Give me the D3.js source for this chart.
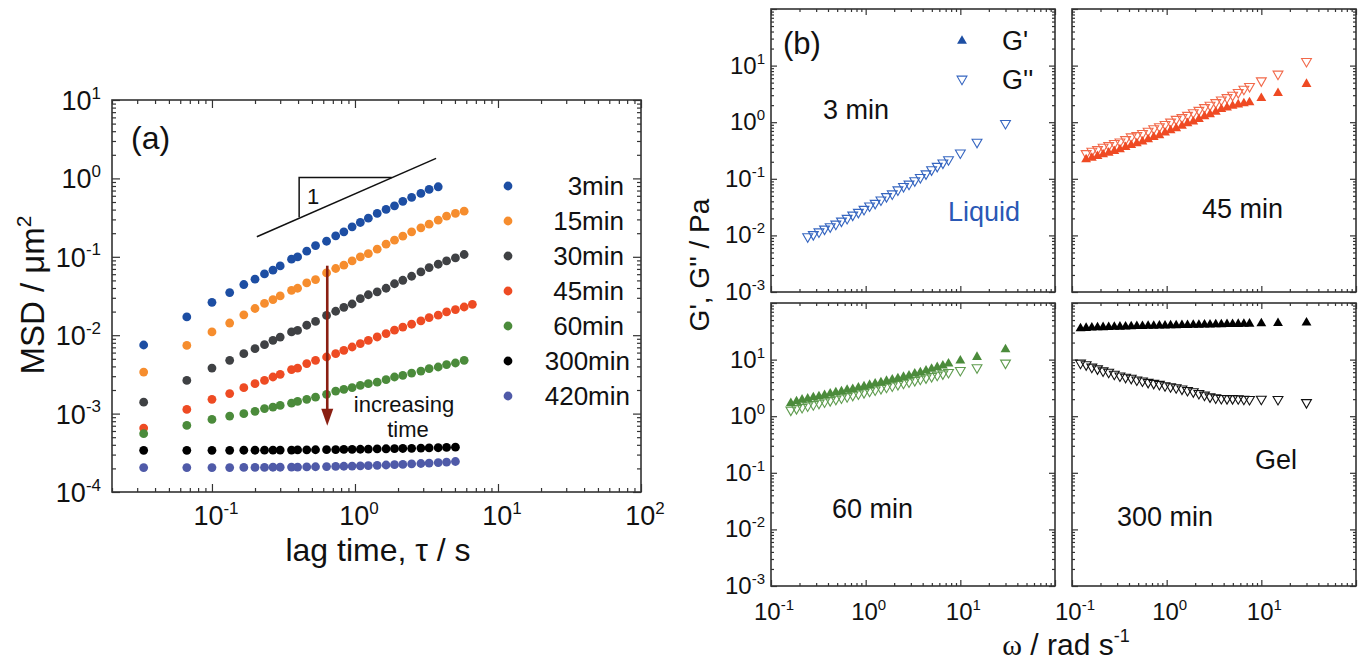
<!DOCTYPE html>
<html>
<head>
<meta charset="utf-8">
<script src="https://cdn.jsdelivr.net/npm/d3@7"></script>
<style>
body { margin: 0; background: #fff; }
svg { display: block; font-family: "Liberation Sans", Arial, sans-serif; }
</style>
</head>
<body>
<svg id="chart" width="1368" height="664"></svg>
<script>
// ---- panel (a): MSD vs lag time ----
var lagTime = [0.0333, 0.0667, 0.1, 0.133, 0.167, 0.2, 0.233, 0.267, 0.3, 0.36, 0.397, 0.46, 0.53, 0.633,
    0.733, 0.836, 0.955, 1.09, 1.24, 1.43, 1.65, 1.89, 2.16, 2.49, 2.89, 3.30, 3.82, 4.37, 5.04, 5.8, 6.62];
var msd3min = [0.0075, 0.0171, 0.0263, 0.0350, 0.0443, 0.0518, 0.0605, 0.0675, 0.0766, 0.0932, 0.0997, 0.118,
    0.139, 0.158, 0.185, 0.208, 0.241, 0.274, 0.311, 0.357, 0.402, 0.447, 0.510, 0.572, 0.643, 0.724, 0.782];
var msd15min = [0.00339, 0.0074, 0.0110, 0.0143, 0.0182, 0.0219, 0.0254, 0.0285, 0.0317, 0.0374, 0.0397, 0.0464,
    0.0513, 0.0623, 0.0709, 0.0781, 0.0887, 0.0997, 0.110, 0.125, 0.145, 0.163, 0.183, 0.208, 0.234, 0.261,
    0.293, 0.330, 0.357, 0.382];
var msd30min = [0.00140, 0.00265, 0.00381, 0.00478, 0.00582, 0.00674, 0.00757, 0.00859, 0.00947, 0.0110, 0.0115,
    0.0134, 0.0150, 0.0179, 0.0202, 0.0227, 0.0250, 0.0292, 0.0328, 0.0358, 0.0397, 0.0453, 0.0502, 0.0565,
    0.0641, 0.0729, 0.0804, 0.0885, 0.0968, 0.107];
var msd45min = [0.000653, 0.00113, 0.00152, 0.00180, 0.00214, 0.00241, 0.00265, 0.00293, 0.00317, 0.00364,
    0.00381, 0.00434, 0.00478, 0.00527, 0.00582, 0.00641, 0.00707, 0.00781, 0.00861, 0.00949, 0.0105, 0.0116,
    0.0127, 0.0138, 0.0152, 0.0168, 0.0180, 0.0198, 0.0212, 0.0229, 0.0248];
var msd60min = [0.000554, 0.000706, 0.000843, 0.000929, 0.000997, 0.00107, 0.00116, 0.00121, 0.00127, 0.00136,
    0.00143, 0.00152, 0.00162, 0.00176, 0.00194, 0.00204, 0.00214, 0.00229, 0.00241, 0.00252, 0.00271, 0.00293,
    0.00308, 0.00329, 0.00349, 0.00375, 0.00393, 0.00422, 0.00442, 0.00478];
var msd300min = [0.000340, 0.000340, 0.000340, 0.000340, 0.000341, 0.000341, 0.000342, 0.000342, 0.000343,
    0.000343, 0.000344, 0.000345, 0.000346, 0.000347, 0.000348, 0.000349, 0.000350, 0.000351, 0.000353,
    0.000354, 0.000356, 0.000357, 0.000359, 0.000361, 0.000363, 0.000365, 0.000367, 0.000370, 0.000373];
var msd420min = [0.000205, 0.000205, 0.000205, 0.000205, 0.000206, 0.000206, 0.000206, 0.000207, 0.000207,
    0.000208, 0.000208, 0.000209, 0.000210, 0.000211, 0.000212, 0.000213, 0.000214, 0.000216, 0.000217,
    0.000219, 0.000221, 0.000223, 0.000225, 0.000228, 0.000231, 0.000234, 0.000237, 0.000241, 0.000245];
var msdLabels = ["3min", "15min", "30min", "45min", "60min", "300min", "420min"];
var msdValues = [msd3min, msd15min, msd30min, msd45min, msd60min, msd300min, msd420min];
var msdColors = ["#1d4ea3", "#f68d2e", "#3f4144", "#ee4b23", "#4b8b3b", "#000000", "#4f5aa8"];

// ---- panel (b): frequency sweeps ----
var omega = [0.123, 0.141, 0.162, 0.186, 0.213, 0.244, 0.280, 0.321, 0.368, 0.422, 0.484, 0.555, 0.637, 0.730,
    0.838, 0.961, 1.10, 1.26, 1.45, 1.66, 1.91, 2.19, 2.51, 2.87, 3.30, 3.78, 4.34, 4.97, 5.70, 6.54, 7.50,
    10, 15, 30];
var g3Loss = [0.0095, 0.0104, 0.0116, 0.0130, 0.0143, 0.0159, 0.0180, 0.0201, 0.0230, 0.0257, 0.0290, 0.0333,
    0.0371, 0.0426, 0.0488, 0.0544, 0.0641, 0.0735, 0.0809, 0.0927, 0.106, 0.123, 0.145, 0.167, 0.191, 0.219,
    0.288, 0.445, 0.955];
var g45Storage = [0.219, 0.234, 0.251, 0.269, 0.288, 0.308, 0.330, 0.363, 0.394, 0.422, 0.451, 0.496, 0.546,
    0.584, 0.652, 0.717, 0.779, 0.857, 0.956, 1.02, 1.13, 1.26, 1.38, 1.52, 1.70, 1.81, 1.94, 2.05, 2.14, 2.23,
    2.66, 3.27, 4.72];
var g45Loss = [0.280, 0.308, 0.330, 0.363, 0.388, 0.422, 0.451, 0.496, 0.553, 0.584, 0.635, 0.698, 0.769, 0.834,
    0.918, 1.01, 1.13, 1.21, 1.33, 1.48, 1.63, 1.82, 2.00, 2.23, 2.49, 2.73, 3.01, 3.36, 3.85, 4.29, 5.41, 7.11,
    11.9];
var g60Storage = [1.70, 1.82, 1.95, 2.03, 2.14, 2.23, 2.36, 2.49, 2.63, 2.74, 2.90, 3.01, 3.18, 3.36, 3.55, 3.75,
    3.96, 4.18, 4.42, 4.67, 4.92, 5.20, 5.64, 5.96, 6.38, 6.83, 7.31, 7.82, 8.49, 9.60, 11.1, 15.1];
var g60Loss = [1.29, 1.37, 1.44, 1.53, 1.61, 1.70, 1.80, 1.90, 2.00, 2.12, 2.23, 2.36, 2.49, 2.63, 2.78, 2.93,
    3.10, 3.27, 3.45, 3.65, 3.85, 4.06, 4.29, 4.54, 4.79, 5.06, 5.34, 5.64, 5.96, 6.47, 7.21, 8.73];
var g300Storage = [35.5, 36.1, 36.5, 36.9, 37.2, 37.5, 37.8, 38.0, 38.3, 38.6, 38.8, 39.0, 39.3, 39.5, 39.7, 39.9,
    40.1, 40.3, 40.5, 40.7, 40.9, 41.1, 41.3, 41.5, 41.7, 41.9, 42.1, 42.3, 42.5, 42.7, 42.9, 43.6, 44.2, 44.8];
var g300Loss = [8.71, 8.15, 7.40, 6.91, 6.36, 6.03, 5.55, 5.18, 4.90, 4.71, 4.40, 4.22, 3.99, 3.83, 3.67, 3.48,
    3.34, 3.21, 3.04, 2.87, 2.72, 2.54, 2.37, 2.21, 2.12, 2.07, 2.06, 2.06, 2.05, 2.01, 1.99, 2.01, 1.99, 1.75];
var sweepNames = ["3 min", "45 min", "60 min", "300 min"];
var sweepStart = [5, 1, 2, 0]; // first omega index of each sweep
var sweepStorage = [[], g45Storage, g60Storage, g300Storage];
var sweepLoss = [g3Loss, g45Loss, g60Loss, g300Loss];
var storageColors = ["#1d4ea3", "#ef4a23", "#4b8b3b", "#000000"];
var lossColors = ["#3565c0", "#f2694a", "#5f9c4f", "#111111"];

var svg = d3.select("#chart");
svg.append("rect").attr("width", 1368).attr("height", 664).attr("fill", "#fff");

//log decade ticks (majors) or 2..9 subticks (minors) inside a domain
function logTicks(domain, minor) {
    var lo = Math.log10(domain[0]) - 1e-9, hi = Math.log10(domain[1]) + 1e-9, out = [];
    for (var e = Math.floor(lo); e <= Math.ceil(hi); e++) {
        if (!minor) {
            if (e >= lo && e <= hi) out.push(Math.pow(10, e));
            continue;
        }
        for (var d = 2; d < 10; d++) {
            var v = d * Math.pow(10, e);
            if (Math.log10(v) >= lo && Math.log10(v) <= hi) out.push(v);
        }
    }
    return out;
}

//box with inward ticks on all four sides
function drawFrame(g, x, y, major, minor) {
    var w = x.range()[1], h = y.range()[0];
    var sides = [
        [d3.axisBottom(x), "translate(0," + h + ")", x],
        [d3.axisTop(x), null, x],
        [d3.axisLeft(y), null, y],
        [d3.axisRight(y), "translate(" + w + ",0)", y]
    ];
    sides.forEach(function (s) {
        [[false, major], [true, minor]].forEach(function (t) {
            var a = g.append("g").attr("transform", s[1])
                .call(s[0].tickValues(logTicks(s[2].domain(), t[0])).tickSize(-t[1]).tickFormat(""));
            a.select(".domain").remove();
            a.selectAll("text").remove();
            a.selectAll("line").attr("stroke", "#333").attr("stroke-width", 1.2);
        });
    });
    g.append("rect").attr("width", w).attr("height", h)
        .attr("fill", "none").attr("stroke", "#333").attr("stroke-width", 1.6);
}

//"10" with superscript exponent
function powLabel(parent, v, x, y, anchor, size, supSize) {
    var t = parent.append("text").attr("x", x).attr("y", y).attr("text-anchor", anchor)
        .attr("font-size", size).attr("fill", "#111");
    t.append("tspan").text("10");
    t.append("tspan").attr("dy", -size * 0.42).attr("font-size", supSize)
        .text(Math.round(Math.log10(v)));
    return t;
}

/* ================= panel (a) ================= */
var A = {left: 112, top: 100, w: 529, h: 392};
var xa = d3.scaleLog().domain([0.02, 100]).range([0, A.w]);
var ya = d3.scaleLog().domain([1e-4, 10]).range([A.h, 0]);
var ga = svg.append("g").attr("transform", "translate(" + A.left + "," + A.top + ")");
drawFrame(ga, xa, ya, 8, 4);

logTicks(ya.domain(), false).forEach(function (v) {
    powLabel(ga, v, -11, ya(v) + 10, "end", 27, 17);
});
logTicks([0.1, 100], false).forEach(function (v) {
    powLabel(ga, v, xa(v) + 4, A.h + 33, "middle", 27, 17);
});

msdValues.forEach(function (vals, i) {
    ga.append("g").selectAll("circle").data(vals).join("circle")
        .attr("cx", function (d, j) { return xa(lagTime[j]); })
        .attr("cy", function (d) { return ya(d); })
        .attr("r", 4.4)
        .attr("fill", msdColors[i]);
});

// slope triangle
var slopeLine = [[0.206, 0.180], [3.69, 1.80]];
ga.append("line").attr("x1", xa(slopeLine[0][0])).attr("y1", ya(slopeLine[0][1]))
    .attr("x2", xa(slopeLine[1][0])).attr("y2", ya(slopeLine[1][1]))
    .attr("stroke", "#111").attr("stroke-width", 1.5);
ga.append("polyline")
    .attr("points", [[xa(0.407), ya(0.32)], [xa(0.407), ya(1.03)], [xa(1.81), ya(1.03)]].join(" "))
    .attr("fill", "none").attr("stroke", "#111").attr("stroke-width", 1.5);
ga.append("text").attr("x", xa(0.51)).attr("y", ya(0.594) + 8).attr("text-anchor", "middle")
    .attr("font-size", 22).attr("fill", "#111").text("1");

// increasing time arrow
var arrowTau = 0.64, arrowTop = 0.077, arrowTip = 0.0007;
var ax = xa(arrowTau), tipY = ya(arrowTip);
ga.append("line").attr("x1", ax).attr("x2", ax).attr("y1", ya(arrowTop)).attr("y2", tipY - 12)
    .attr("stroke", "#8a1f12").attr("stroke-width", 2.6);
ga.append("path").attr("d", "M" + (ax - 6) + "," + (tipY - 17) + "L" + (ax + 6) + "," + (tipY - 17) + "L" + ax + "," + tipY + "Z")
    .attr("fill", "#8a1f12");
svg.append("text").attr("x", 404).attr("y", 412).attr("text-anchor", "middle")
    .attr("font-size", 22).attr("fill", "#111").text("increasing");
svg.append("text").attr("x", 408).attr("y", 437).attr("text-anchor", "middle")
    .attr("font-size", 22).attr("fill", "#111").text("time");

svg.append("text").attr("x", 131).attr("y", 149).attr("font-size", 32).attr("fill", "#111").text("(a)");

// legend (a)
msdLabels.forEach(function (lab, i) {
    var cy = 186 + i * 35;
    svg.append("circle").attr("cx", 508).attr("cy", cy).attr("r", 4.4).attr("fill", msdColors[i]);
    svg.append("text").attr("x", lab.length > 5 ? 630 : 624).attr("y", cy + 9).attr("text-anchor", "end")
        .attr("font-size", 26).attr("fill", "#111").text(lab);
});

// axis titles (a)
var yTitleA = svg.append("text").attr("transform", "translate(44,295) rotate(-90)")
    .attr("text-anchor", "middle").attr("font-size", 33).attr("fill", "#111");
yTitleA.append("tspan").text("MSD / μm");
yTitleA.append("tspan").attr("dy", -13).attr("font-size", 21).text("2");
svg.append("text").attr("x", 378).attr("y", 561).attr("text-anchor", "middle")
    .attr("font-size", 32).attr("fill", "#111").text("lag time, τ / s");

/* ================= panel (b) ================= */
var subPos = [[771, 9], [1072, 9], [771, 303], [1072, 303]];
var subW = 284, subH = 283;
var xb = d3.scaleLog().domain([0.1, 100]).range([0, subW]);
var yb = d3.scaleLog().domain([1e-3, 100]).range([subH, 0]);
var tri = d3.symbol().type(d3.symbolTriangle).size(42);

sweepNames.forEach(function (name, i) {
    var g = svg.append("g").attr("transform", "translate(" + subPos[i][0] + "," + subPos[i][1] + ")");
    drawFrame(g, xb, yb, 6, 3);
    var w = omega.slice(sweepStart[i]);
    g.append("g").selectAll("path").data(sweepLoss[i]).join("path")
        .attr("d", tri())
        .attr("transform", function (d, j) { return "translate(" + xb(w[j]) + "," + yb(d) + ") rotate(180)"; })
        .attr("fill", "none").attr("stroke", lossColors[i]).attr("stroke-width", 1.1);
    g.append("g").selectAll("path").data(sweepStorage[i]).join("path")
        .attr("d", tri())
        .attr("transform", function (d, j) { return "translate(" + xb(w[j]) + "," + yb(d) + ")"; })
        .attr("fill", storageColors[i]);
    if (i % 2 === 0) {
        logTicks([1e-3, 10], false).forEach(function (v) {
            powLabel(g, v, -6, yb(v) + 8, "end", 24, 15);
        });
    }
    if (i >= 2) {
        logTicks([0.1, 10], false).forEach(function (v) {
            powLabel(g, v, xb(v) + 3, subH + 34, "middle", 24, 15);
        });
    }
});

// in-panel texts (b)
svg.append("text").attr("x", 783).attr("y", 54).attr("font-size", 31).attr("fill", "#111").text("(b)");
svg.append("text").attr("x", 823).attr("y", 119).attr("font-size", 27).attr("fill", "#111").text("3 min");
svg.append("text").attr("x", 948).attr("y", 221).attr("font-size", 27).attr("fill", "#2a58b5").text("Liquid");
svg.append("text").attr("x", 1202).attr("y", 218).attr("font-size", 27).attr("fill", "#111").text("45 min");
svg.append("text").attr("x", 832).attr("y", 518).attr("font-size", 27).attr("fill", "#111").text("60 min");
svg.append("text").attr("x", 1117).attr("y", 526).attr("font-size", 27).attr("fill", "#111").text("300 min");
svg.append("text").attr("x", 1255).attr("y", 469).attr("font-size", 27).attr("fill", "#111").text("Gel");

// legend (b)
svg.append("path").attr("d", tri()).attr("transform", "translate(962,41)").attr("fill", storageColors[0]);
svg.append("path").attr("d", tri()).attr("transform", "translate(962,79) rotate(180)")
    .attr("fill", "none").attr("stroke", lossColors[0]).attr("stroke-width", 1.1);
svg.append("text").attr("x", 1002).attr("y", 50).attr("font-size", 27).attr("fill", "#111").text("G'");
svg.append("text").attr("x", 1002).attr("y", 89).attr("font-size", 27).attr("fill", "#111").text("G''");

// axis titles (b)
svg.append("text").attr("transform", "translate(709,265) rotate(-90)").attr("text-anchor", "middle")
    .attr("font-size", 28).attr("fill", "#111").text("G', G'' / Pa");
var xTitleB = svg.append("text").attr("x", 1066).attr("y", 655).attr("text-anchor", "middle")
    .attr("font-size", 30).attr("fill", "#111");
xTitleB.append("tspan").attr("font-family", "'Liberation Serif', 'Times New Roman', serif").text("ω");
xTitleB.append("tspan").text(" / rad s");
xTitleB.append("tspan").attr("dy", -13).attr("font-size", 18).text("-1");
</script>
</body>
</html>
